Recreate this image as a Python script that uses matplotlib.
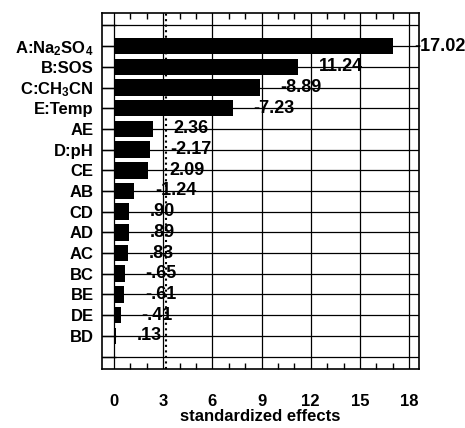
import numpy as np
import matplotlib.pyplot as plt
from matplotlib.ticker import MultipleLocator

plt.rcParams['font.family'] = ['Liberation Sans', 'DejaVu Sans']
plt.rcParams['mathtext.fontset'] = 'custom'
plt.rcParams['mathtext.rm'] = 'Liberation Sans:bold'
plt.rcParams['mathtext.it'] = 'Liberation Sans:bold'
plt.rcParams['mathtext.bf'] = 'Liberation Sans:bold'
plt.rcParams['mathtext.default'] = 'rm'

# pareto of standardized effects
terms = ['A:Na$_2$SO$_4$', 'B:SOS', 'C:CH$_3$CN', 'E:Temp', 'AE', 'D:pH', 'CE', 'AB',
         'CD', 'AD', 'AC', 'BC', 'BE', 'DE', 'BD']
effects = [-17.02, 11.24, -8.89, -7.23, 2.36, -2.17, 2.09, -1.24,
           0.90, 0.89, 0.83, -0.65, -0.61, -0.41, 0.13]
value_labels = ['-17.02', '11.24', '-8.89', '-7.23', '2.36', '-2.17', '2.09', '-1.24',
                '.90', '.89', '.83', '-.65', '-.61', '-.41', '.13']
t_crit = 3.16

fig = plt.figure(figsize=(4.65, 4.28), dpi=100)
ax = fig.add_axes([0.2194, 0.1379, 0.6816, 0.8317])

ypos = np.arange(1, len(terms) + 1)
ax.barh(ypos, np.abs(effects), height=0.8, color='black', zorder=3)

for y, v, s in zip(ypos, effects, value_labels):
    ax.annotate(s, xy=(abs(v), y), xytext=(15, 0), textcoords='offset points',
                ha='left', va='center', fontsize=13, fontweight='bold', zorder=4,
                annotation_clip=False)

ax.axvline(t_crit, color='black', linestyle=':', lw=1.5, zorder=2)

ax.set_xlim(-0.73, 18.6)
ax.set_ylim(16.6, -0.6)
ax.xaxis.set_major_locator(MultipleLocator(3))
ax.xaxis.set_minor_locator(MultipleLocator(1))
ax.set_yticks(np.arange(0, 17))
ax.set_yticklabels([''] + terms + [''], fontsize=12, fontweight='bold')
for lab in ax.get_xticklabels():
    lab.set_fontweight('bold')

ax.grid(True, which='major', color='black', lw=0.9, zorder=1)
ax.tick_params(axis='x', which='major', direction='in', length=0, labelsize=12, pad=18,
               top=True)
ax.tick_params(axis='x', which='minor', direction='in', length=4, width=1, top=True)
ax.tick_params(axis='y', direction='in', length=10, width=1, pad=6)
for sp in ax.spines.values():
    sp.set_linewidth(1.2)

ax.set_xlabel('standardized effects', fontsize=12, fontweight='bold', labelpad=0)

fig.savefig('out.png', dpi=100)
